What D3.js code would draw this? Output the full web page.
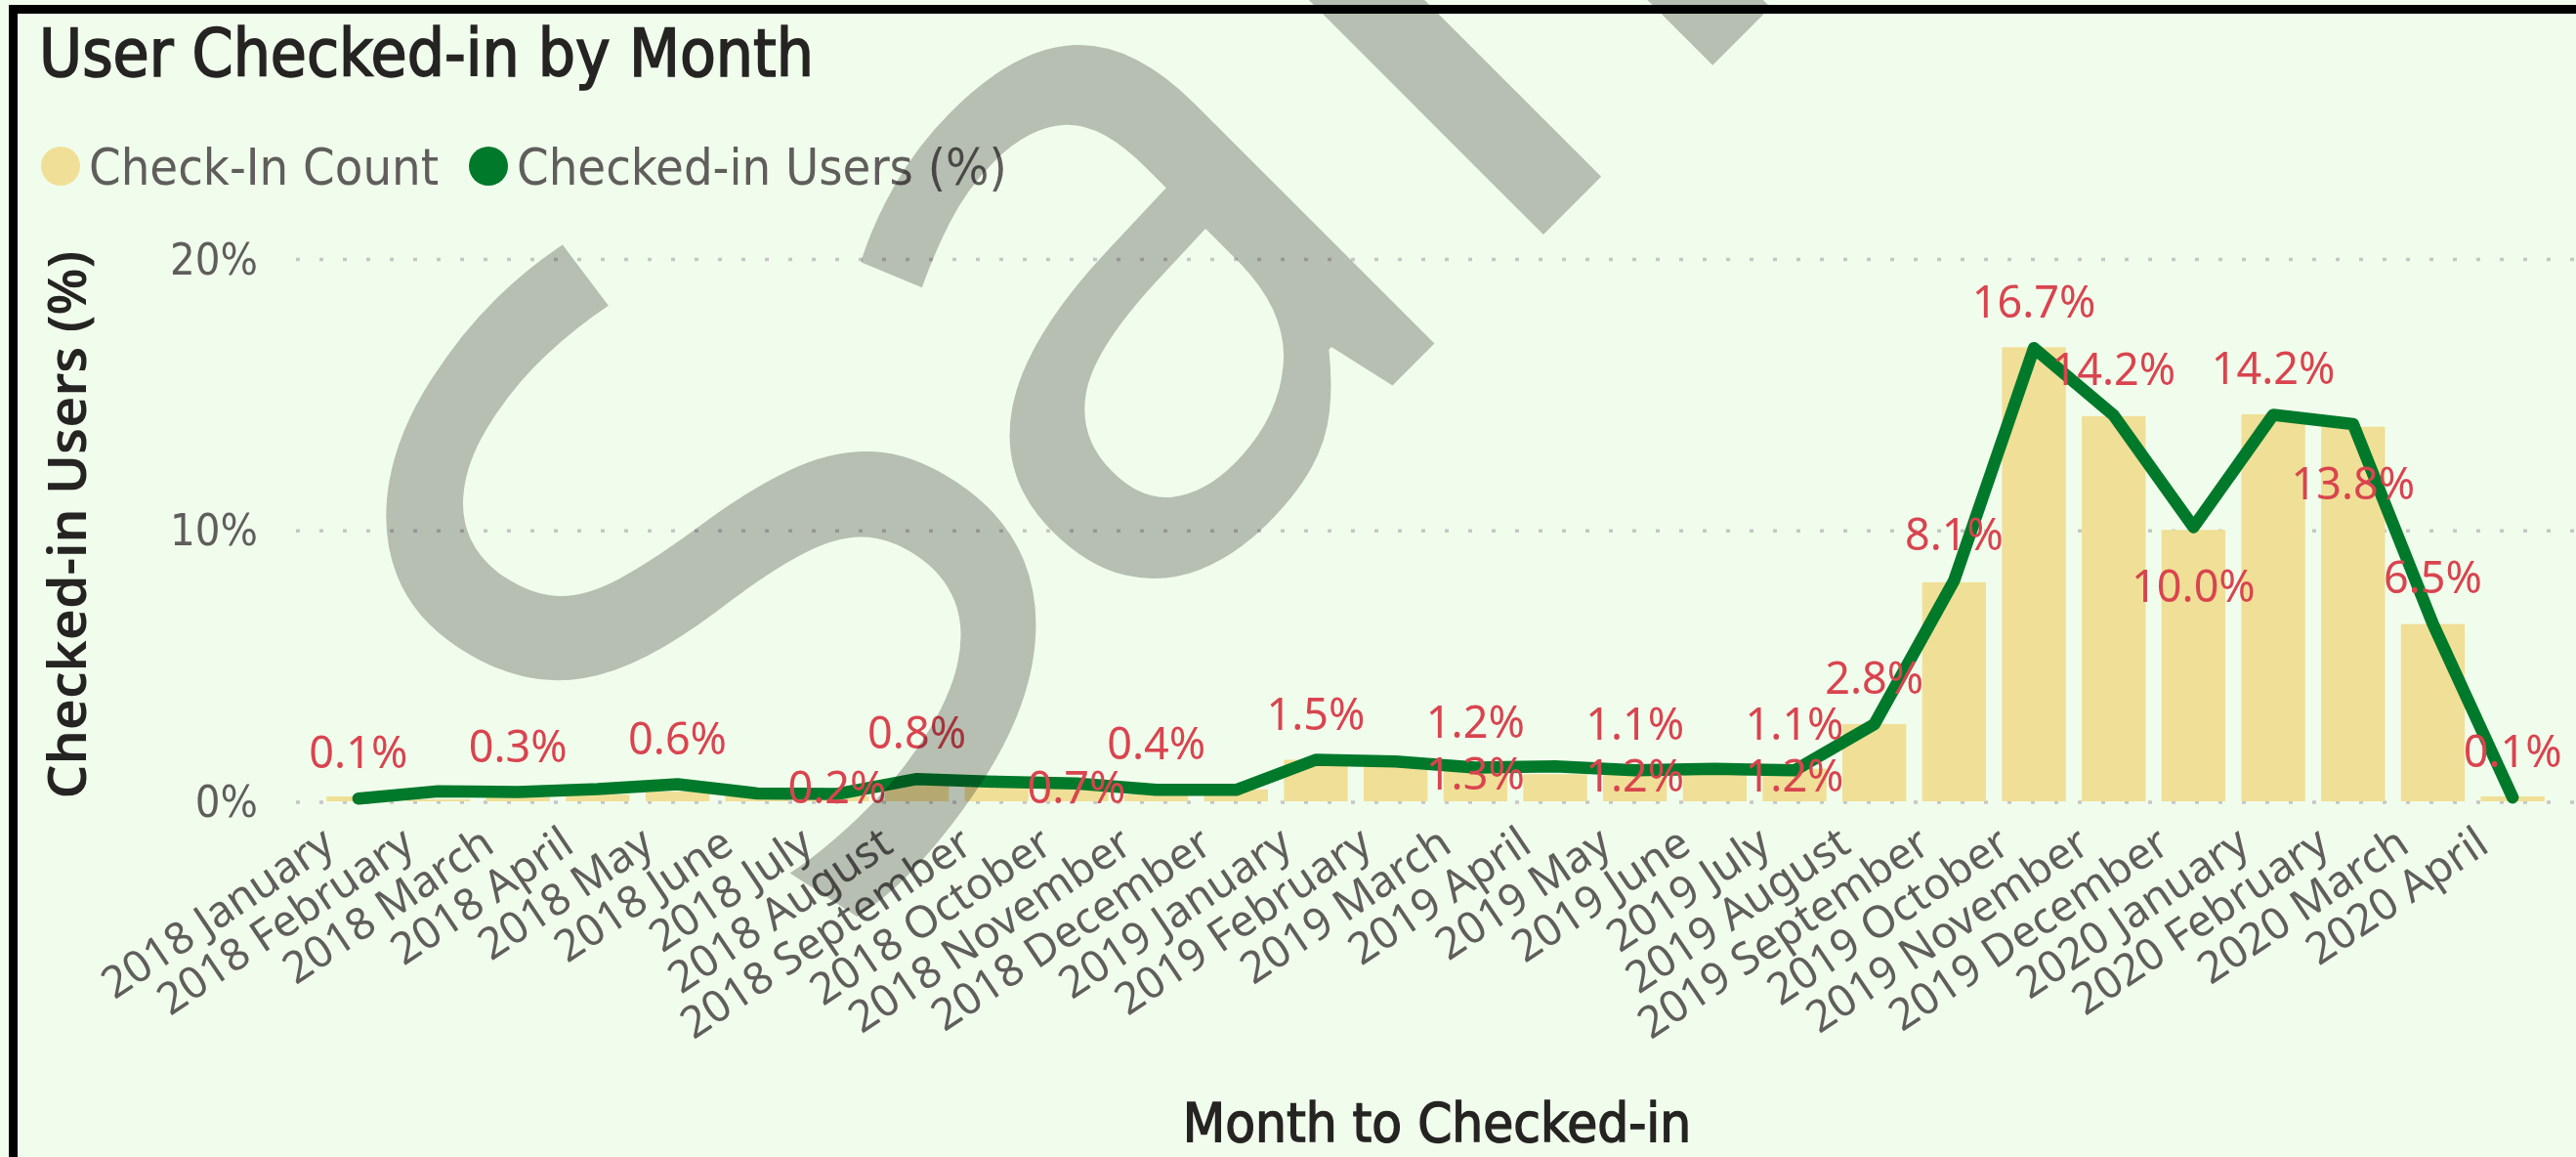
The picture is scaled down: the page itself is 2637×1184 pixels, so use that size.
<!DOCTYPE html>
<html>
<head>
<meta charset="utf-8">
<script src="https://cdn.jsdelivr.net/npm/d3@7/dist/d3.min.js"></script>
<style>
  html, body { margin: 0; padding: 0; background: #f1fdec; }
  svg { display: block; }
  .din { font-family: "DejaVu Sans Condensed", "DejaVu Sans", sans-serif; font-stretch: condensed; }
  .ui { font-family: "Noto Sans", "Open Sans", sans-serif; }
</style>
</head>
<body>
<div id="chart"></div>
<script>
// months on the x axis
var months = ["2018 January","2018 February","2018 March","2018 April","2018 May","2018 June",
  "2018 July","2018 August","2018 September","2018 October","2018 November","2018 December",
  "2019 January","2019 February","2019 March","2019 April","2019 May","2019 June",
  "2019 July","2019 August","2019 September","2019 October","2019 November","2019 December",
  "2020 January","2020 February","2020 March","2020 April"];

// Check-In Count, shown as % of total (columns)
var checkInPct = [0.18, 0.07, 0.14, 0.25, 0.36, 0.18, 0.2, 0.72, 0.79, 0.7, 0.25, 0.44,
  1.53, 1.3, 1.3, 1.0, 1.2, 1.05, 1.2, 2.85, 8.07, 16.73, 14.19, 10.0, 14.26, 13.8, 6.53, 0.18];

// Checked-in Users (%) (line)
var userPct = [0.1, 0.37, 0.34, 0.45, 0.63, 0.29, 0.27, 0.82, 0.72, 0.66, 0.42, 0.42,
  1.53, 1.47, 1.24, 1.29, 1.14, 1.2, 1.14, 2.84, 8.14, 16.7, 14.22, 10.1, 14.24, 13.9, 6.54, 0.14];

// which months show a data label (the rest are hidden by the overlap rule)
var lineLabelIdx = [0, 2, 4, 7, 10, 12, 14, 16, 18, 19, 20, 21, 22, 24, 26, 27];
var barLabelIdx = [6, 9, 14, 16, 18, 23, 25];

var yTicks = [0, 10, 20];
var legendItems = ["Check-In Count", "Checked-in Users (%)"];

var W = 2637, H = 1184;
var barColor = "#f0df96", lineColor = "#00792b", labelColor = "#d9444f";
var fmt = function(v) { return d3.format(".1f")(v) + "%"; };

var svg = d3.select("#chart").append("svg")
    .attr("width", W)
    .attr("height", H);

svg.append("rect").attr("width", W).attr("height", H).attr("fill", "#f1fdec");

// frame
svg.append("line").attr("x1", 9).attr("x2", W).attr("y1", 9.5).attr("y2", 9.5)
  .attr("stroke", "#000").attr("stroke-width", 9);
svg.append("line").attr("x1", 13.5).attr("x2", 13.5).attr("y1", 5).attr("y2", H)
  .attr("stroke", "#000").attr("stroke-width", 9);

// title
svg.append("text").attr("class", "din")
  .attr("x", 40).attr("y", 78)
  .attr("font-size", 67)
  .attr("fill", "#252423")
  .attr("stroke", "#252423")
  .attr("stroke-width", 1.6)
  .text("User Checked-in by Month");

// legend
var legendX = [62, 500];
var legendColors = [barColor, lineColor];
legendItems.forEach(function(name, i) {
  svg.append("circle").attr("cx", legendX[i]).attr("cy", 170).attr("r", 20)
    .attr("fill", legendColors[i]);
  svg.append("text").attr("class", "din")
    .attr("x", legendX[i] + 29).attr("y", 189)
    .attr("font-size", 52)
    .attr("fill", "#605e5c")
    .text(name);
});

// scales
var x = d3.scaleBand()
  .domain(months)
  .range([326, 2613])
  .paddingInner(0.2)
  .paddingOuter(0.1);
var y = d3.scaleLinear()
  .domain([0, 20])
  .range([820, 264.5]);
var cx = function(i) { return x(months[i]) + x.bandwidth() / 2; };

// gridlines + y tick labels
var grid = svg.append("g");
yTicks.forEach(function(t) {
  grid.append("line")
    .attr("x1", 303).attr("x2", W)
    .attr("y1", y(t) + 1).attr("y2", y(t) + 1)
    .attr("stroke", "#c6c6c6")
    .attr("stroke-width", 3.5)
    .attr("stroke-dasharray", "4,20");
  grid.append("text").attr("class", "din")
    .attr("x", 264).attr("y", y(t) + 16)
    .attr("text-anchor", "end")
    .attr("font-size", 45)
    .attr("fill", "#605e5c")
    .text(t + "%");
});

// y axis title
svg.append("text").attr("class", "ui")
  .attr("transform", "translate(88,537) rotate(-90)")
  .attr("text-anchor", "middle")
  .attr("font-size", 55)
  .attr("font-weight", 600)
  .attr("fill", "#252423")
  .text("Checked-in Users (%)");

// bars
svg.append("g").selectAll("rect")
  .data(checkInPct)
  .enter()
  .append("rect")
    .attr("x", function(d, i) { return x(months[i]); })
    .attr("width", x.bandwidth())
    .attr("y", function(d) { return y(d); })
    .attr("height", function(d) { return y(0) - y(d); })
    .attr("fill", barColor);

// line
var line = d3.line()
  .x(function(d, i) { return cx(i); })
  .y(function(d) { return y(d); });
svg.append("path")
  .datum(userPct)
  .attr("d", line)
  .attr("fill", "none")
  .attr("stroke", lineColor)
  .attr("stroke-width", 12.5)
  .attr("stroke-linejoin", "round")
  .attr("stroke-linecap", "round");

// x tick labels
svg.append("g").selectAll("text")
  .data(months)
  .enter()
  .append("text").attr("class", "ui")
    .attr("transform", function(d, i) { return "translate(" + (cx(i) - 22) + ",870) rotate(-34)"; })
    .attr("text-anchor", "end")
    .attr("font-size", 45)
    .attr("fill", "#605e5c")
    .text(function(d) { return d; });

// x axis title
svg.append("text").attr("class", "din")
  .attr("x", 1471).attr("y", 1168)
  .attr("text-anchor", "middle")
  .attr("font-size", 56)
  .attr("fill", "#252423")
  .attr("stroke", "#252423")
  .attr("stroke-width", 1.4)
  .text("Month to Checked-in");

// data labels: line labels above the point, column labels below it
var labels = svg.append("g").attr("class", "ui")
  .attr("font-size", 45)
  .attr("fill", labelColor)
  .attr("text-anchor", "middle");

labels.selectAll(".above")
  .data(lineLabelIdx)
  .enter()
  .append("text").attr("class", "above")
    .attr("x", function(i) { return cx(i); })
    .attr("y", function(i) { return y(userPct[i]) - 31; })
    .text(function(i) { return fmt(userPct[i]); });

labels.selectAll(".below")
  .data(barLabelIdx)
  .enter()
  .append("text").attr("class", "below")
    .attr("x", function(i) { return cx(i); })
    .attr("y", function(i) {
      var yl = y(userPct[i]);
      return yl + 77 <= 822 ? yl + 77 : Math.min(yl + 22, 822);
    })
    .text(function(i) { return fmt(checkInPct[i]); });

// watermark
var wm = svg.append("g").attr("class", "ui")
  .attr("fill", "#c1c1c0")
  .style("mix-blend-mode", "multiply");
wm.append("text")
  .attr("transform", "translate(870,991) rotate(-57)")
  .attr("font-size", 950)
  .text("S");
wm.append("text")
  .attr("transform", "translate(1146,674) rotate(-45)")
  .attr("font-size", 950)
  .text("alman");
</script>
</body>
</html>
